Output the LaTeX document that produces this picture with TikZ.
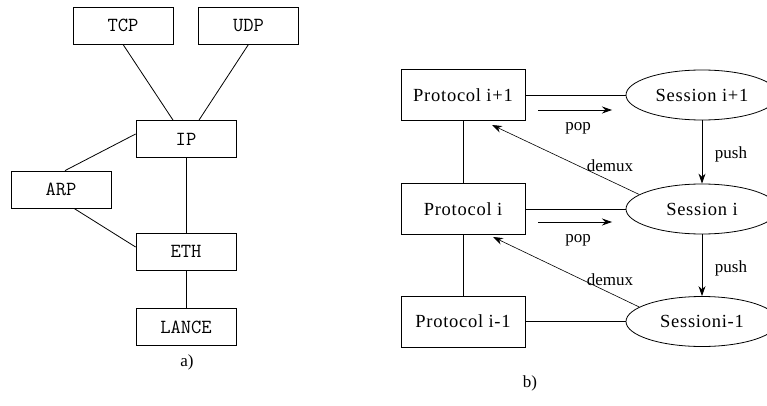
\documentclass[tikz,border=0pt]{standalone}
\usepackage{fontspec}
\setmainfont{Liberation Serif}
\newfontfamily\spacedserif[LetterSpace=4]{Liberation Serif}
\usetikzlibrary{shapes.geometric,arrows.meta}
\begin{document}
\begin{tikzpicture}[x=1pt,y=-1pt,
  lbox/.style={draw,line width=0.8pt,minimum width=100pt,minimum height=37pt,inner sep=0pt,font=\ttfamily\fontsize{20}{22}\selectfont},
  pbox/.style={draw,line width=0.8pt,minimum width=124pt,minimum height=51pt,inner sep=0pt,font=\spacedserif\fontsize{18.5}{20}\selectfont},
  sess/.style={draw,ellipse,line width=0.8pt,minimum width=152pt,minimum height=50pt,inner sep=0pt,font=\spacedserif\fontsize{18.5}{20}\selectfont},
  conn/.style={line width=0.8pt},
  arr/.style={line width=0.8pt,-{Stealth[length=10pt,width=7pt]}},
  lab/.style={font=\fontsize{17}{19}\selectfont,inner sep=0pt}]
\useasboundingbox (0,0) rectangle (767,406);
% left diagram
\node[lbox] (tcp) at (123,25.5) {TCP};
\node[lbox] (udp) at (248.5,25.5) {UDP};
\node[lbox] (ip) at (186,139) {IP};
\node[lbox] (arp) at (61,189.5) {ARP};
\node[lbox] (eth) at (186,251.5) {ETH};
\node[lbox] (lance) at (186,327) {LANCE};
\draw[conn] (tcp.south) -- ([xshift=-13pt]ip.north);
\draw[conn] (udp.south) -- ([xshift=13pt]ip.north);
\draw[conn] ([yshift=5pt]ip.west) -- ([xshift=4pt]arp.north);
\draw[conn] ([xshift=13pt]arp.south) -- ([yshift=4.5pt]eth.west);
\draw[conn] (ip.south) -- (eth.north);
\draw[conn] (eth.south) -- (lance.north);
\node[lab] (la) at (187,362) {a)};
% right diagram
\node[pbox] (p1) at (463,95) {Protocol i+1};
\node[pbox] (p0) at (463,209) {Protocol i};
\node[pbox] (pm) at (463,321.5) {Protocol i-1};
\node[sess] (s1) at (702,95) {Session i+1};
\node[sess] (s0) at (702,209) {Session i};
\node[sess] (sm) at (702,321.5) {Sessioni-1};
\draw[conn] (p1.south) -- (p0.north);
\draw[conn] (p0.south) -- (pm.north);
\draw[conn] (p1.east) -- (s1.west);
\draw[conn] (p0.east) -- (s0.west);
\draw[conn] (pm.east) -- (sm.west);
\coordinate (pa1) at (538,110);
\coordinate (pb1) at (612,110);
\coordinate (pa0) at (538,222);
\coordinate (pb0) at (612,222);
\draw[arr] (pa1) -- (pb1);
\draw[arr] (pa0) -- (pb0);
\node[lab] (pop1) at (578,128) {pop};
\node[lab] (pop0) at (578,240) {pop};
\draw[arr] (s1.south) -- (s0.north);
\draw[arr] (s0.south) -- (sm.north);
\node[lab] (push1) at (731,154) {push};
\node[lab] (push0) at (731,268) {push};
\coordinate (d1) at (492,125);
\coordinate (d0) at (493,237);
\draw[arr,line width=0.6pt] (s0.167) -- (d1);
\draw[arr,line width=0.6pt] (sm.167) -- (d0);
\node[lab] (dm1) at (610,166) {demux};
\node[lab] (dm0) at (610,280) {demux};
\node[lab] (lb) at (530,383) {b)};
\end{tikzpicture}
\end{document}
